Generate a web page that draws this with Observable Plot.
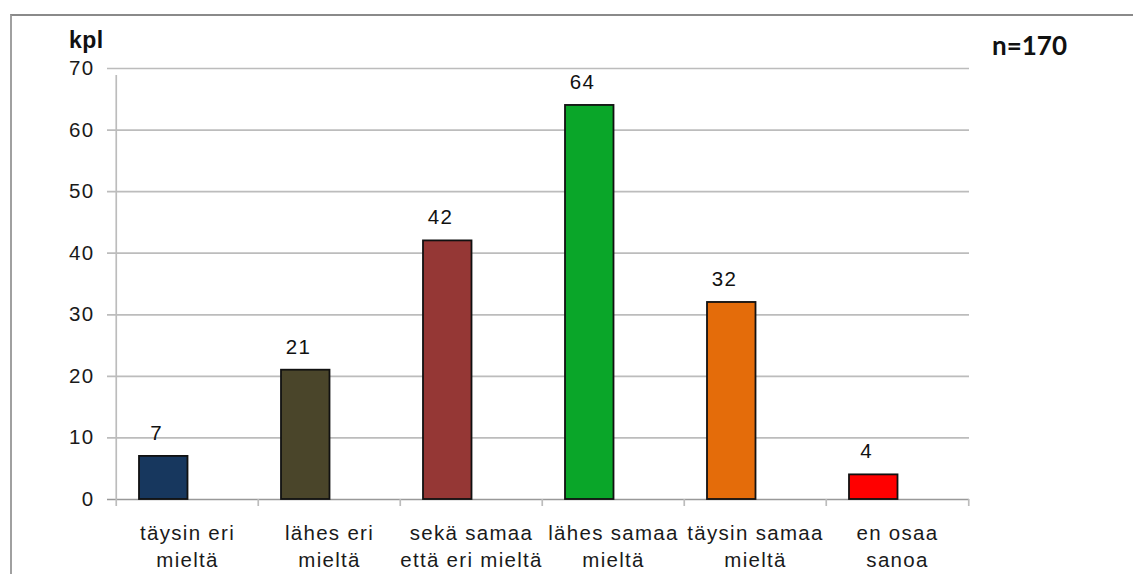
<!DOCTYPE html>
<html>
<head>
<meta charset="utf-8">
<script src="https://cdn.jsdelivr.net/npm/d3@7"></script>
<script src="https://cdn.jsdelivr.net/npm/@observablehq/plot@0.6"></script>
<style>
  html, body { margin: 0; padding: 0; background: #fff; }
  #wrap { position: relative; width: 1133px; height: 574px; overflow: hidden; }
  #frame { position: absolute; left: 10px; top: 14px; width: 1200px; height: 700px;
           border-top: 2px solid #8a8a8a; border-left: 2px solid #a0a0a0; box-sizing: border-box; }
  #chart { position: absolute; left: 0; top: 0; }
  #chart svg text { letter-spacing: 1.3px; }
  .lbl { position: absolute; line-height: 1; white-space: nowrap; color: #111; }
  #kpl { left: 69px; top: 27px; font: bold 23px "Liberation Sans", Arial, sans-serif; letter-spacing: 0.5px; }
  #n { left: 992px; top: 29px; font: bold 26px Lato, "Liberation Sans", sans-serif; }
</style>
</head>
<body>
<div id="wrap">
  <div id="frame"></div>
  <div id="chart"></div>
  <div class="lbl" id="kpl">kpl</div>
  <div class="lbl" id="n">n=170</div>
</div>
<script>
const categories = ["täysin eri mieltä", "lähes eri mieltä", "sekä samaa että eri mieltä", "lähes samaa mieltä", "täysin samaa mieltä", "en osaa sanoa"];
const tickLabels = ["täysin eri\nmieltä", "lähes eri\nmieltä", "sekä samaa\nettä eri mieltä", "lähes samaa\nmieltä", "täysin samaa\nmieltä", "en osaa\nsanoa"];
const counts = [7, 21, 42, 64, 32, 4];
const colors = ["#17375E", "#4A452A", "#953735", "#0AA629", "#E46C0A", "#FF0000"];
const yTicks = [0, 10, 20, 30, 40, 50, 60, 70];

const W = 1133, H = 574;
const mL = 114, mR = 164, mT = 68, mB = 75;
const band = (W - mL - mR) / categories.length;

const data = categories.map((c, i) => ({cat: c, label: tickLabels[i], value: counts[i], color: colors[i]}));

const chart = Plot.plot({
  width: W,
  height: H,
  marginLeft: mL,
  marginRight: mR,
  marginTop: mT,
  marginBottom: mB,
  style: {fontFamily: "'Liberation Sans', Arial, sans-serif", fontSize: "20.5px", background: "transparent", color: "#111", overflow: "visible"},
  x: {domain: categories, padding: 0, axis: null},
  y: {domain: [0, 70], axis: null},
  color: {type: "identity"},
  marks: [
    Plot.ruleY(yTicks.filter(d => d > 0), {stroke: "#bcbcbc", strokeWidth: 1.7, insetLeft: -7}),
    Plot.ruleY([0], {stroke: "#999", strokeWidth: 1.7, insetLeft: -7}),
    Plot.ruleX([categories[0]], {x: d => d, y1: 0, y2: 70, dx: -band / 2, insetBottom: -7, stroke: "#bcbcbc", strokeWidth: 1.7}),
    Plot.ruleX(categories, {x: d => d, y1: 0, y2: 0, dx: -band / 2, insetBottom: -7, stroke: "#bcbcbc", strokeWidth: 1.7}),
    Plot.ruleX([categories[categories.length - 1]], {x: d => d, y1: 0, y2: 0, dx: band / 2, insetBottom: -7, stroke: "#bcbcbc", strokeWidth: 1.7}),
    Plot.axisY({ticks: yTicks, label: null, tickSize: 0, tickPadding: 20, fontSize: 20.5, fill: "#1a1a1a"}),
    Plot.barY(data, {x: "cat", y: "value", fill: "color", stroke: "#111", strokeWidth: 1.8, insetLeft: 23, insetRight: band - 72}),
    Plot.text(data, {x: "cat", y: "value", text: d => String(d.value), dy: -23, dx: -31, fontSize: 20.5, fill: "#111"}),
    Plot.text(data, {x: "cat", y: () => 0, text: "label", lineAnchor: "top", lineHeight: 1.3, dy: 22, fontSize: 20.5, fill: "#1a1a1a"})
  ]
});
document.getElementById("chart").appendChild(chart);
</script>
</body>
</html>
